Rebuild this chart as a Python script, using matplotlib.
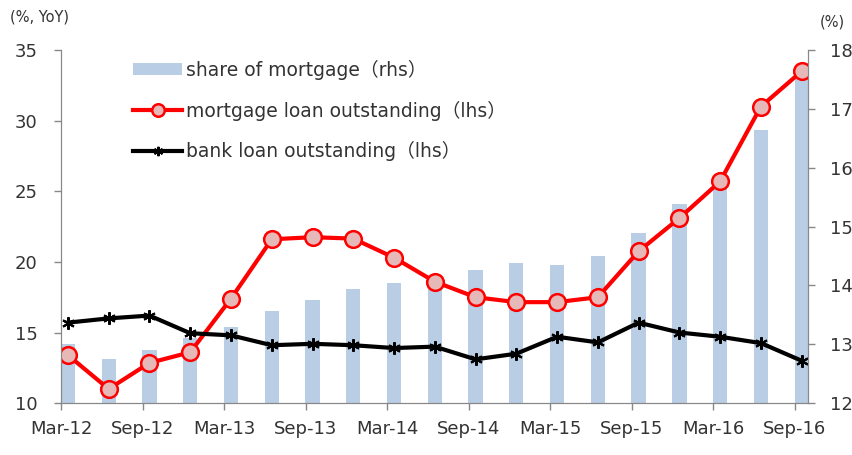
import numpy as np
import matplotlib.pyplot as plt

plt.rcParams['font.family'] = ['DejaVu Sans', 'Noto Sans CJK JP']

quarters = ['Mar-12', 'Jun-12', 'Sep-12', 'Dec-12', 'Mar-13', 'Jun-13', 'Sep-13',
            'Dec-13', 'Mar-14', 'Jun-14', 'Sep-14', 'Dec-14', 'Mar-15', 'Jun-15',
            'Sep-15', 'Dec-15', 'Mar-16', 'Jun-16', 'Sep-16']
share_mortgage = [13.0, 12.75, 12.9, 13.1, 13.29, 13.56, 13.75, 13.94, 14.04, 14.15,
                  14.26, 14.38, 14.35, 14.5, 14.89, 15.38, 15.65, 16.64, 17.57]
mortgage_loan = [13.4, 11.0, 12.85, 13.6, 17.4, 21.6, 21.75, 21.65, 20.3, 18.6,
                 17.5, 17.15, 17.15, 17.5, 20.75, 23.1, 25.7, 31.0, 33.5]
bank_loan = [15.7, 16.0, 16.2, 14.95, 14.8, 14.1, 14.2, 14.1, 13.9, 14.0,
             13.1, 13.5, 14.7, 14.3, 15.7, 15.0, 14.7, 14.25, 13.0]

x = np.arange(len(quarters))
grey = '#888888'
txt = '#333333'

fig = plt.figure(figsize=(8.53, 4.55), dpi=100)
ax_r = fig.add_axes([0.0715, 0.114, 0.8755, 0.776])
ax_l = ax_r.twinx()

# bars on the right-hand axis (drawn behind)
bars = ax_r.bar(x, share_mortgage, width=0.35, color='#B9CDE5', zorder=1,
                label='share of mortgage（rhs）')
ax_r.set_ylim(12, 18)
ax_r.yaxis.tick_right()
ax_r.yaxis.set_label_position('right')

# lines on the left-hand axis
l1, = ax_l.plot(x, mortgage_loan, color='#FF0000', lw=3, marker='o', ms=12,
                mfc='#E6B9B8', mec='#FF0000', mew=1.8,
                label='mortgage loan outstanding（lhs）')
l2, = ax_l.plot(x, bank_loan, color='black', lw=3, marker=(6, 2, 0), ms=9,
                mec='black', mew=1.5, label='bank loan outstanding（lhs）')
ax_l.set_ylim(10, 35)
ax_l.yaxis.tick_left()
ax_l.yaxis.set_label_position('left')
ax_l.set_yticks(np.arange(10, 36, 5))
ax_r.set_yticks(np.arange(12, 19, 1))

ax_r.set_xlim(-0.17, 18.15)
ax_r.set_xticks(x[::2] - 0.17)
ax_r.set_xticklabels(quarters[::2])

for a in (ax_r, ax_l):
    a.spines['top'].set_visible(False)
    for s in ('left', 'right', 'bottom'):
        a.spines[s].set_color(grey)
    a.tick_params(colors=grey, labelcolor=txt, labelsize=13, length=5, width=1)
ax_r.tick_params(axis='x', pad=7)
ax_l.tick_params(axis='y', pad=12)
ax_r.tick_params(axis='y', pad=11)

fig.text(0.012, 0.962, '(%, YoY)', fontsize=10.5, color=txt, ha='left', va='center')
fig.text(0.99, 0.952, '(%)', fontsize=10.5, color=txt, ha='right', va='center')

ax_l.legend([bars, l1, l2], [bars.get_label(), l1.get_label(), l2.get_label()],
            loc='upper left', bbox_to_anchor=(0.074, 1.02), frameon=False,
            fontsize=13.5, labelcolor=txt, handlelength=2.6, handleheight=0.6,
            handletextpad=0.2, labelspacing=1.1, markerscale=0.75)

fig.savefig('out.png', dpi=100)
